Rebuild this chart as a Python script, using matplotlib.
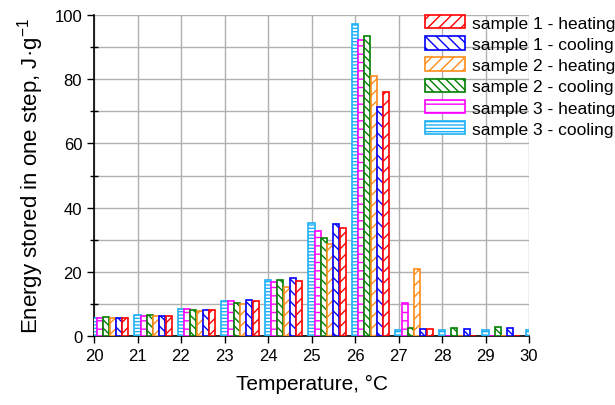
import numpy as np
import matplotlib
matplotlib.use("Agg")
import matplotlib.pyplot as plt

plt.rcParams['font.family'] = ['Liberation Sans', 'DejaVu Sans']
plt.rcParams['mathtext.fontset'] = 'custom'
plt.rcParams['mathtext.rm'] = 'Liberation Sans'
plt.rcParams['hatch.linewidth'] = 1.0

temps = np.arange(20, 31)

# order of drawing within a group: left to right
labels = ["sample 3 - cooling", "sample 3 - heating",
          "sample 2 - cooling", "sample 2 - heating",
          "sample 1 - cooling", "sample 1 - heating"]
s3_cool = [5.5, 6.4, 8.3, 11.0, 17.5, 35.3, 97.2, 2.0, 1.8, 2.0, 2.0]
s3_heat = [5.5, 6.3, 8.3, 10.8, 16.8, 32.6, 92.3, 10.4, 0.0, 0.0, 0.0]
s2_cool = [5.8, 6.4, 8.0, 10.3, 17.6, 30.4, 93.5, 2.4, 2.5, 2.7, 0.0]
s2_heat = [5.5, 6.3, 7.8, 10.0, 15.2, 28.6, 81.1, 20.8, 0.0, 0.0, 0.0]
s1_cool = [5.6, 6.3, 8.2, 11.2, 18.0, 34.8, 71.2, 2.3, 2.1, 2.4, 0.0]
s1_heat = [5.5, 6.3, 8.2, 11.0, 17.0, 33.6, 75.9, 2.1, 0.0, 0.0, 0.0]
series = [s3_cool, s3_heat, s2_cool, s2_heat, s1_cool, s1_heat]

colors = ['#1EB0F5', '#FF00FF', '#008000', '#FF8C1A', '#0000FF', '#FF0000']
hatches = ['-----', '--', '\\\\\\\\', '///', '\\\\\\', '///']

fig = plt.figure(figsize=(6.15, 4.06), dpi=100)
ax = fig.add_axes([94 / 615, 1 - 337 / 406, 435 / 615, 321 / 406])

step = 0.143
width = 0.14
handles = {}
for i, (vals, lab) in enumerate(zip(series, labels)):
    b = ax.bar(temps + i * step, vals, width=width, facecolor='white',
               edgecolor=colors[i], hatch=hatches[i], linewidth=1.2,
               label=lab, zorder=3)
    handles[lab] = b

ax.set_xlim(20, 30)
ax.set_ylim(0, 100)
ax.set_xticks(temps)
ax.set_yticks(np.arange(0, 101, 20))
ax.set_yticks(np.arange(10, 100, 20), minor=True)
ax.tick_params(axis='both', which='major', labelsize=12, direction='out',
               length=5, width=1)
ax.tick_params(axis='y', which='minor', direction='inout', length=6, width=1)
ax.grid(True, which='both', color='#b0b0b0', linewidth=1.0, zorder=0)
ax.set_axisbelow(True)
for s in ['top', 'right']:
    ax.spines[s].set_visible(False)
for s in ['left', 'bottom']:
    ax.spines[s].set_linewidth(1.2)

ax.set_xlabel("Temperature, °C", fontsize=15, labelpad=8)
ax.set_ylabel("Energy stored in one step, J·g$^{-1}$", fontsize=16, labelpad=6)

order = ["sample 1 - heating", "sample 1 - cooling",
         "sample 2 - heating", "sample 2 - cooling",
         "sample 3 - heating", "sample 3 - cooling"]
fig.legend([handles[k] for k in order], order, loc='upper left',
           bbox_to_anchor=(425 / 615, 1 - 16 / 406), frameon=False,
           fontsize=12.5, handlelength=2.3, handleheight=0.8,
           handletextpad=0.4, labelspacing=0.32, borderpad=0,
           borderaxespad=0)

fig.savefig("out.png", dpi=100)
